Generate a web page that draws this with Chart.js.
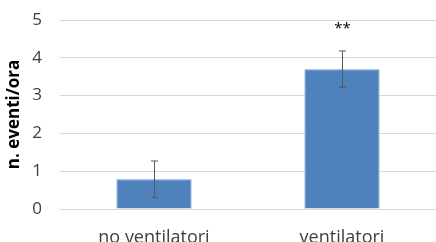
<!DOCTYPE html>
<html>
<head>
<meta charset="utf-8">
<script src="https://cdn.jsdelivr.net/npm/chart.js@4/dist/chart.umd.min.js"></script>
<style>
  html, body { margin: 0; padding: 0; background: #fff; }
  #wrap { width: 436px; height: 242px; }
</style>
</head>
<body>
<div id="wrap"><canvas id="myChart" width="436" height="242"></canvas></div>
<script>
var categories = ["no ventilatori", "ventilatori"];
var values = [0.79, 3.70];
var errors = [0.48, 0.48];
var marks = ["", "**"];
var yTicks = [0, 1, 2, 3, 4, 5];

// error bars + significance stars, drawn from the scales
const errorBars = {
    id: "errorBars",
    afterDatasetsDraw(chart) {
        const ctx = chart.ctx;
        const x = chart.scales.x;
        const y = chart.scales.y;
        ctx.save();
        ctx.strokeStyle = "#595959";
        ctx.lineWidth = 1;
        values.forEach((v, i) => {
            const cx = Math.round(x.getPixelForValue(i)) + 0.5;
            const top = y.getPixelForValue(v + errors[i]);
            const bot = y.getPixelForValue(v - errors[i]);
            ctx.beginPath();
            ctx.moveTo(cx, top); ctx.lineTo(cx, bot);
            ctx.moveTo(cx - 3.5, top); ctx.lineTo(cx + 3.5, top);
            ctx.moveTo(cx - 3.5, bot); ctx.lineTo(cx + 3.5, bot);
            ctx.stroke();
            if (marks[i]) {
                ctx.fillStyle = "#000";
                ctx.font = "15px 'Open Sans'";
                ctx.textAlign = "center";
                ctx.textBaseline = "middle";
                ctx.fillText(marks[i], cx, y.getPixelForValue(4.8) + 1);
            }
        });
        ctx.restore();
    }
};

const chart = new Chart("myChart", {
    type: "bar",
    data: {
        labels: categories,
        datasets: [{
            data: values,
            backgroundColor: "#4f81bd",
            borderColor: "#6f97c9",
            borderWidth: 1,
            categoryPercentage: 1,
            barPercentage: 0.4
        }]
    },
    options: {
        responsive: false,
        animation: false,
        layout: { padding: { top: 20, right: 0, left: 4, bottom: 0 } },
        plugins: { legend: { display: false }, tooltip: { enabled: false } },
        scales: {
            x: {
                grid: { display: false },
                border: { display: false },
                ticks: { color: "#404040", font: { family: "Open Sans", size: 18 }, padding: 10 },
                afterFit(s) { s.height = 33; s.paddingLeft = 0; s.paddingRight = 0; }
            },
            y: {
                min: 0, max: 5,
                afterBuildTicks(s) { s.ticks = yTicks.map(v => ({ value: v })); },
                grid: { color: "#d9d9d9", drawTicks: false },
                border: { display: false },
                ticks: { color: "#404040", font: { family: "Open Sans", size: 17 }, padding: 18 },
                title: { display: true, text: "n. eventi/ora", color: "#000", font: { family: "Open Sans", size: 17, weight: "bold" }, padding: 0 },
                afterFit(s) { s.width = 56; s.paddingTop = 0; s.paddingBottom = 0; }
            }
        }
    },
    plugins: [errorBars]
});
</script>
</body>
</html>
